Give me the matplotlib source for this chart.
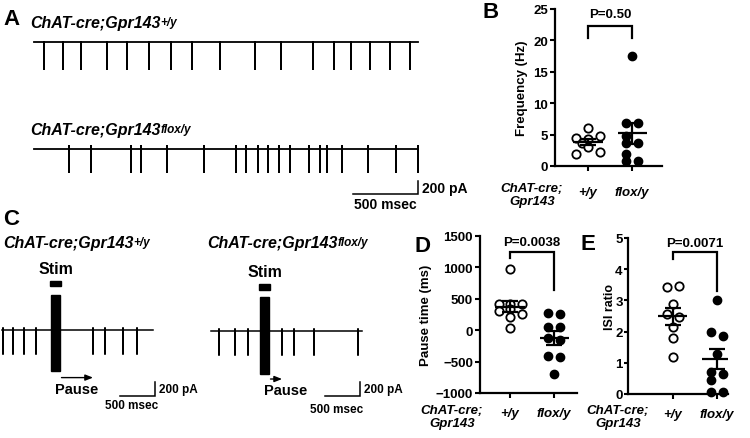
"""Gpr143 cholinergic interneuron firing figure: example traces (A, C) and group scatter plots (B, D, E)."""

import matplotlib

matplotlib.use("Agg")
import matplotlib.pyplot as plt
import numpy as np
from matplotlib.patches import Rectangle

W, H = 750, 439

# ---- values ----
groups = ["+/y", "flox/y"]

# A: spontaneous firing, spike times (ms)
a_wt_spikes = [80, 225, 360, 560, 715, 885, 1055, 1215, 1430, 1700, 1900,
               2145, 2305, 2440, 2585, 2740, 2890]
a_ko_spikes = [270, 440, 745, 825, 1025, 1305, 1555, 1630, 1725, 1800, 1885,
               1970, 2115, 2200, 2255, 2370, 2570, 2785, 2950]
a_duration = 2955
a_wt_amp, a_ko_amp = 415, 355  # pA

# B: spontaneous frequency (Hz)
b_wt = [6.1, 4.8, 4.4, 4.3, 3.6, 3.0, 2.2, 1.9]
b_ko = [17.5, 6.85, 6.85, 4.7, 3.6, 3.6, 1.9, 0.85, 0.85]

# C: response to stimulation, spike times (ms)
c_stim = (700, 830)
c_wt_spikes = [15, 155, 315, 485, 1300, 1475, 1730, 1930]
c_ko_spikes = [115, 345, 530, 1015, 1185, 1475, 2100]
c_duration = 2160

# D: pause time (ms)
d_wt = [975, 410, 410, 410, 345, 305, 255, 210, 30]
d_ko = [270, 265, 50, 45, -120, -150, -410, -420, -700]

# E: ISI ratio
e_wt = [3.47, 3.42, 2.88, 2.56, 2.46, 2.14, 1.78, 1.18]
e_ko = [3.0, 1.98, 1.86, 1.28, 0.72, 0.64, 0.46, 0.06, 0.06]

# horizontal scatter of the points (px from the group centre)
b_wt_dx = [0, 12, -12, 0, -6, 0, 12, -12]
b_ko_dx = [0, -6, 6, -6, -6, 6, -6, -6, 6]
d_wt_dx = [0, -11, 0, 12, 0, -11, 12, 0, 0]
d_ko_dx = [-6, 6, -6, 6, -6, 6, -6, 6, 0]
e_wt_dx = [6, -6, 0, -6, 6, 0, 0, 0]
e_ko_dx = [0, -6, 6, 0, -6, 6, -6, -6, 6]

plt.rcParams["font.family"] = ["Liberation Sans", "DejaVu Sans"]
plt.rcParams["font.weight"] = "bold"

fig = plt.figure(figsize=(W / 100, H / 100), dpi=100)
ov = fig.add_axes([0, 0, 1, 1], zorder=5)
ov.set_xlim(0, W)
ov.set_ylim(H, 0)
ov.axis("off")


def px_axes(x0, y0, x1, y1, **kw):
    return fig.add_axes([x0 / W, 1 - y1 / H, (x1 - x0) / W, (y1 - y0) / H], **kw)


def title(x, y, main, sup, size=11.5):
    t = ov.text(x, y, main, fontsize=size, fontstyle="italic", va="baseline")
    ov.annotate(sup, xy=(1, 1), xycoords=t, xytext=(0.2, -0.5), textcoords="offset points",
                fontsize=8.5, fontstyle="italic", va="top", ha="left")


def trace_axes(x0, y_base, ms_px, pa_px, w=420, up=60, down=80):
    ax = px_axes(x0, y_base - up, x0 + w, y_base + down)
    ax.set_xlim(0, w * ms_px)
    ax.set_ylim(-down * pa_px, up * pa_px)
    ax.axis("off")
    return ax


def draw_trace(ax, spikes, duration, amp, up=0, lw=1.3):
    xs, ys = [0], [0]
    for t in spikes:
        xs += [t, t, t, t]
        ys += [0, up, -amp, 0]
    xs.append(duration)
    ys.append(0)
    ax.plot(xs, ys, color="black", lw=lw, clip_on=False)


def scale_bar(ax, x_end, y, fs, xlab_ha="center", xlab_dy=-2):
    ax.plot([x_end - 500, x_end, x_end], [y, y, y + 200], color="black", lw=1.1,
            clip_on=False, solid_joinstyle="miter")
    ax.annotate("200 pA", xy=(x_end, y + 100), xytext=(3, 0), textcoords="offset points",
                fontsize=fs, va="center", ha="left")
    if xlab_ha == "center":
        ax.annotate("500 msec", xy=(x_end - 250, y), xytext=(0, xlab_dy),
                    textcoords="offset points", fontsize=fs, va="top", ha="center")
    else:
        ax.annotate("500 msec", xy=(x_end, y), xytext=(2, xlab_dy),
                    textcoords="offset points", fontsize=fs, va="top", ha="right")


def stim_trace(ax, spikes, amp, block_up, block_down, bar_lo, bar_hi, arrow_y):
    draw_trace(ax, spikes, c_duration, amp, up=25, lw=1.1)
    s0, s1 = c_stim
    ax.add_patch(Rectangle((s0, -block_down), s1 - s0, block_up + block_down,
                           color="black", clip_on=False, zorder=3))
    ax.add_patch(Rectangle((s0 - 15, bar_lo), s1 - s0 + 30, bar_hi - bar_lo,
                           color="black", clip_on=False, zorder=3))
    ax.annotate("Stim", xy=((s0 + s1) / 2, bar_hi), xytext=(0, 6), textcoords="offset points",
                fontsize=11.5, ha="center", va="baseline")
    nxt = min(t for t in spikes if t > s1)
    ax.annotate("", xy=(nxt, arrow_y), xytext=(s1 + 20, arrow_y),
                arrowprops=dict(arrowstyle="-|>,head_length=0.45,head_width=0.18",
                                lw=1.0, color="black", shrinkA=0, shrinkB=0))
    ax.annotate("Pause", xy=(s0 + 60, arrow_y), xytext=(0, -3), textcoords="offset points",
                fontsize=10.5, ha="left", va="top")


def scatter_panel(box, xlim, ylim, yticks, wt, ko, wt_dx, ko_dx,
                  bracket, ptext, pgap, xpad, ypad=1.5, ylen=3.5):
    ax = px_axes(*box)
    px_per_cat = 44.0
    ax.set_xlim(*xlim)
    ax.set_ylim(*ylim)
    ax.set_yticks(yticks)
    ax.set_xticks([0, 1], groups, fontstyle="italic", fontsize=9.5)
    for side in ("top", "right"):
        ax.spines[side].set_visible(False)
    for side in ("left", "bottom"):
        ax.spines[side].set_linewidth(1.6)
    ax.tick_params(axis="y", labelsize=9.5, length=ylen, width=1.5, pad=ypad)
    ax.tick_params(axis="x", length=3.5, width=1.5, pad=xpad)
    ax.patch.set_alpha(0)

    ax.plot(np.array(wt_dx) / px_per_cat, wt, "o", mfc="white", mec="black", mew=1.3,
            ms=6.0, clip_on=False, zorder=3)
    ax.plot(1 + np.array(ko_dx) / px_per_cat, ko, "o", color="black", ms=6.0,
            clip_on=False, zorder=3)
    for i, vals in enumerate([wt, ko]):
        m = np.mean(vals)
        s = np.std(vals, ddof=1) / np.sqrt(len(vals))
        kw = dict(color="black", lw=1.6, zorder=4, solid_capstyle="butt")
        ax.plot([i - 0.33, i + 0.33], [m, m], **kw)
        ax.plot([i, i], [m - s, m + s], **kw)
        ax.plot([i - 0.18, i + 0.18], [m + s, m + s], **kw)
        ax.plot([i - 0.18, i + 0.18], [m - s, m - s], **kw)

    top, left_lo, right_lo = bracket
    ax.plot([0, 0, 1, 1], [left_lo, top, top, right_lo], color="black", lw=1.6,
            clip_on=False, solid_joinstyle="miter")
    ax.annotate(ptext, xy=(0.5, top), xytext=(0, pgap), textcoords="offset points",
                fontsize=9.5, ha="center", va="bottom")
    return ax


# ---- A ----
ov.text(3, 25, "A", fontsize=16)
title(30, 28, "ChAT-cre;Gpr143", "+/y")
title(30, 135, "ChAT-cre;Gpr143", "flox/y")
a_ms_px, a_pa_px = 500 / 65, 200 / 13
ax_a1 = trace_axes(34, 43, a_ms_px, a_pa_px)
draw_trace(ax_a1, a_wt_spikes, a_duration, a_wt_amp)
ax_a2 = trace_axes(34, 150, a_ms_px, a_pa_px)
draw_trace(ax_a2, a_ko_spikes, a_duration, a_ko_amp, up=45)
scale_bar(ax_a2, a_duration, -45 * a_pa_px, fs=10, xlab_dy=-2.5)

# ---- C ----
ov.text(3, 225, "C", fontsize=16)
title(3, 248, "ChAT-cre;Gpr143", "+/y")
title(207, 248, "ChAT-cre;Gpr143", "flox/y")
c_ms_px, c_pa_px = 500 / 35, 200 / 14
ax_c1 = trace_axes(2, 331, c_ms_px, c_pa_px, w=200)
stim_trace(ax_c1, c_wt_spikes, 343, 500, 586, 629, 700, -680)
scale_bar(ax_c1, 153 * c_ms_px, -66 * c_pa_px, fs=8.5, xlab_ha="right", xlab_dy=-2)
ax_c2 = trace_axes(211, 332, c_ms_px, c_pa_px, w=200)
stim_trace(ax_c2, c_ko_spikes, 340, 486, 615, 586, 672, -686)
scale_bar(ax_c2, 149 * c_ms_px, -65 * c_pa_px, fs=8.5, xlab_ha="right", xlab_dy=-5)

# ---- B ----
ov.text(483, 18, "B", fontsize=16)
scatter_panel((555, 10, 662, 167), (-0.75, 1.68), (0, 25), range(0, 26, 5),
              b_wt, b_ko, b_wt_dx, b_ko_dx, (22.3, 20.4, 20.4), "P=0.50", 4.5, 11)
ov.text(522, 88, "Frequency (Hz)", fontsize=9.5, rotation=90, ha="center", va="center")
ov.text(532, 183, "ChAT-cre;\nGpr143", fontsize=9.5, fontstyle="italic",
        ha="center", va="top", linespacing=1.15)

# ---- D ----
ov.text(415, 252, "D", fontsize=16)
scatter_panel((480, 237, 577, 394), (-0.68, 1.52), (-1000, 1500), range(-1000, 1501, 500),
              d_wt, d_ko, d_wt_dx, d_ko_dx, (1250, 1150, 634), "P=0.0038", 2.5, 6.5)
ov.text(426, 315, "Pause time (ms)", fontsize=9.5, rotation=90, ha="center", va="center")
ov.text(452, 405, "ChAT-cre;\nGpr143", fontsize=9.5, fontstyle="italic",
        ha="center", va="top", linespacing=1.15)

# ---- E ----
ov.text(580, 250, "E", fontsize=16)
scatter_panel((628, 239, 728, 395), (-1.02, 1.25), (0, 5), range(0, 6),
              e_wt, e_ko, e_wt_dx, e_ko_dx, (4.55, 4.33, 3.31), "P=0.0071", 2.5, 6.5,
              ypad=0.8, ylen=3)
ov.text(610, 307, "ISI ratio", fontsize=9, rotation=90, ha="center", va="center")
ov.text(618, 405, "ChAT-cre;\nGpr143", fontsize=9.5, fontstyle="italic",
        ha="center", va="top", linespacing=1.15)

fig.savefig("out.png", dpi=100)
